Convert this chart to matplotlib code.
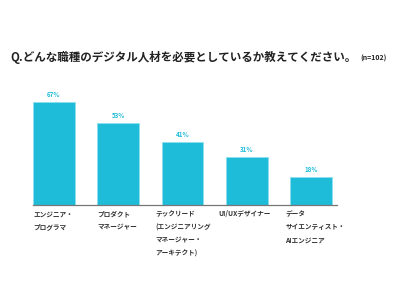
import matplotlib
matplotlib.use("Agg")
import matplotlib.pyplot as plt
import numpy as np

plt.rcParams['font.family'] = ['Noto Sans CJK JP', 'DejaVu Sans']

categories = ["エンジニア・\nプログラマ",
              "プロダクト\nマネージャー",
              "テックリード\n(エンジニアリング\nマネージャー・\nアーキテクト)",
              "UI/UXデザイナー",
              "データ\nサイエンティスト・\nAIエンジニア"]
values = [67, 53, 41, 31, 18]

bar_color = "#1fbcd9"
edge_color = "#8fe0ef"

fig = plt.figure(figsize=(4, 3), dpi=100)
ax = fig.add_axes([0.0825, 0.3167, 0.76, 0.3833])

x = np.arange(len(values))
width = 0.65
bars = ax.bar(x, values, width, color=bar_color, edgecolor=edge_color, linewidth=0.6)

for rect, v in zip(bars, values):
    ax.annotate(f"{v}%", xy=(rect.get_x() + rect.get_width() / 2, v),
                xytext=(0, 3), textcoords="offset points",
                ha='center', va='bottom', fontsize=4.5, fontweight='bold',
                color=bar_color)

ax.set_xlim(-0.325, 4.40)
ax.set_ylim(0, 74.7)
ax.set_xticks([])
ax.set_yticks([])
for s in ['top', 'right', 'left']:
    ax.spines[s].set_visible(False)
ax.spines['bottom'].set_color('#777777')
ax.spines['bottom'].set_linewidth(0.9)

offsets = [0.0, 0.0, -0.1, -0.12, -0.08]
for i, (lab, off) in enumerate(zip(categories, offsets)):
    ax.text(i - width / 2 + off, -3.5, lab, ha='left', va='top',
            fontsize=4.8, fontweight='bold', color='#333333',
            linespacing=2.0)

fig.text(0.025, 0.81, "Q.どんな職種のデジタル人材を必要としているか教えてください。",
         fontsize=8.3, fontweight='bold', color='#222222', va='center')
fig.text(0.90, 0.806, "(n=102)", fontsize=5, fontweight='bold',
         color='#222222', va='center')

fig.savefig("out.png", dpi=100)
